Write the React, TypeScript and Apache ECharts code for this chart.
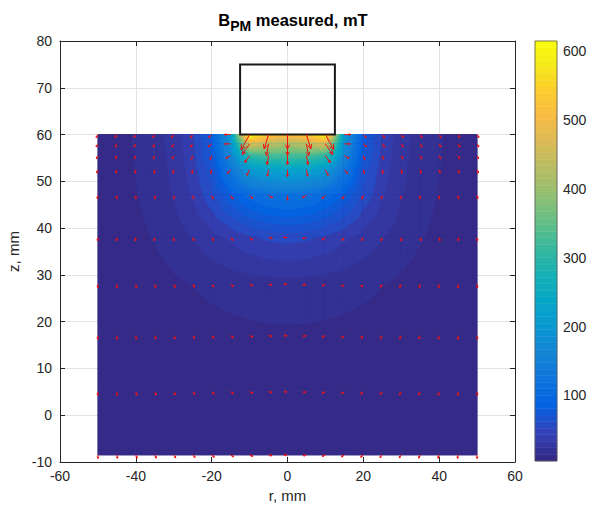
import React, { useEffect, useRef } from "react";
import * as echarts from "echarts";

// ---------- data ----------
const rValues = [-50, -45, -40, -35, -30, -25, -20, -15, -10, -5, 0, 5, 10, 15, 20, 25, 30, 35, 40, 45, 50];
const zValues = [60, 58, 55.5, 52.5, 47, 38, 28, 17, 5, -8.5];

// |B| in mT at each measurement point, one array per z row (r = -50 ... 50)
const bZ60 = [11, 14, 18, 25, 34, 52, 85, 210, 614, 540, 520, 540, 608, 210, 85, 52, 34, 25, 18, 14, 11];
const bZ58 = [10.5, 13.5, 18, 24, 33, 50, 82, 190, 470, 440, 420, 440, 470, 190, 82, 50, 33, 24, 18, 13.5, 10.5];
const bZ55_5 = [10, 13, 17.5, 24, 33, 49, 80, 165, 310, 330, 330, 330, 310, 165, 80, 49, 33, 24, 17.5, 13, 10];
const bZ52_5 = [10, 13, 17.5, 23, 32, 47, 72, 135, 210, 230, 235, 230, 210, 135, 72, 47, 32, 23, 17.5, 13, 10];
const bZ47 = [9.5, 12.5, 16.5, 22, 30, 43, 62, 88, 108, 120, 125, 120, 108, 88, 62, 43, 30, 22, 16.5, 12.5, 9.5];
const bZ38 = [8.5, 11, 14, 18, 23.5, 30, 37, 44, 51, 56, 58, 56, 51, 44, 37, 30, 23.5, 18, 14, 11, 8.5];
const bZ28 = [7, 8.5, 10.5, 12.5, 15, 17.5, 20, 22, 23.5, 24.5, 25, 24.5, 23.5, 22, 20, 17.5, 15, 12.5, 10.5, 8.5, 7];
const bZ17 = [6.2, 7, 8, 9, 10, 11.3, 12.5, 13.5, 14.3, 14.8, 15, 14.8, 14.3, 13.5, 12.5, 11.3, 10, 9, 8, 7, 6.2];
const bZ5 = [5.2, 5.5, 5.9, 6.3, 6.8, 7.3, 7.8, 8.2, 8.6, 8.9, 9, 8.9, 8.6, 8.2, 7.8, 7.3, 6.8, 6.3, 5.9, 5.5, 5.2];
const bZm8_5 = [5, 5, 5.1, 5.2, 5.3, 5.5, 5.6, 5.8, 5.9, 6, 6, 6, 5.9, 5.8, 5.6, 5.5, 5.3, 5.2, 5.1, 5, 5];

// field direction (degrees, 0 = +r, 90 = +z) at each point
const aZ60 = [-120, -120, -120, -120, -125, -125, -135, 180, -119, -107, -90, -73, -61, 0, -45, -55, -55, -60, -60, -60, -60];
const aZ58 = [-120, -120, -120, -120, -120, -125, -140, 180, -125, -100, -90, -80, -55, 0, -40, -55, -60, -60, -60, -60, -60];
const aZ55_5 = [-115, -115, -115, -115, -115, -110, -110, -150, -125, -100, -90, -80, -55, -30, -70, -70, -65, -65, -65, -65, -65];
const aZ52_5 = [-110, -105, -105, -100, -100, -100, -105, -130, -115, -100, -90, -80, -65, -50, -75, -80, -80, -80, -75, -75, -70];
const aZ47 = [-100, -95, -90, -85, -80, -75, -70, -60, -45, -30, -90, -150, -135, -120, -110, -105, -100, -95, -90, -85, -80];
const aZ38 = [-95, -95, -100, -100, -90, -70, -60, -50, -40, -15, 180, -165, -140, -130, -120, -110, -90, -80, -80, -85, -85];
const aZ28 = [-95, -90, -80, -75, -65, -60, -50, -40, -25, -10, 180, -170, -155, -140, -130, -120, -115, -105, -100, -90, -85];
const aZ17 = [-95, -90, -80, -70, -65, -55, -45, -35, -20, -10, 180, -170, -160, -145, -135, -125, -115, -110, -100, -90, -85];
const aZ5 = [-95, -85, -75, -65, -60, -50, -40, -30, -20, -10, 180, -170, -160, -150, -140, -130, -120, -115, -105, -95, -85];
const aZm8_5 = [-90, -80, -70, -65, -55, -45, -40, -30, -20, -10, 180, -170, -160, -150, -140, -135, -125, -115, -110, -100, -90];

const bRows = [bZ60, bZ58, bZ55_5, bZ52_5, bZ47, bZ38, bZ28, bZ17, bZ5, bZm8_5];
const aRows = [aZ60, aZ58, aZ55_5, aZ52_5, aZ47, aZ38, aZ28, aZ17, aZ5, aZm8_5];

// magnet outline [r0, z0, r1, z1]
const magnetBox = [-12.5, 60, 12.5, 75];

const xTickInterval = 20;
const yTickInterval = 10;
const colorbarTicks = [100, 200, 300, 400, 500, 600];

// ---------- styles ----------
const fontFamily = "'Liberation Sans', Arial, Helvetica, sans-serif";
const axisColor = "#262626";
const gridColor = "#e2e2e2";
const N_LEVELS = 50;

const PARULA: number[][] = [
  [0 / 63, 0.2081, 0.1663, 0.5292],
  [4 / 63, 0.1959, 0.2645, 0.7279],
  [8 / 63, 0.0117, 0.3875, 0.882],
  [12 / 63, 0.0498, 0.4586, 0.8641],
  [16 / 63, 0.0793, 0.52, 0.8312],
  [20 / 63, 0.0343, 0.5966, 0.8199],
  [24 / 63, 0.0228, 0.6535, 0.7768],
  [28 / 63, 0.0843, 0.6928, 0.7062],
  [32 / 63, 0.2178, 0.725, 0.6193],
  [36 / 63, 0.3953, 0.7459, 0.5244],
  [40 / 63, 0.5709, 0.7485, 0.4494],
  [44 / 63, 0.7184, 0.7411, 0.3905],
  [48 / 63, 0.8507, 0.7299, 0.336],
  [52 / 63, 0.9739, 0.7314, 0.2666],
  [56 / 63, 0.988, 0.8066, 0.1794],
  [60 / 63, 0.9598, 0.9218, 0.0948],
  [63 / 63, 0.9763, 0.9831, 0.0538],
];

function parula(t: number): string {
  const tt = Math.max(0, Math.min(1, t));
  let k = 0;
  while (k < PARULA.length - 2 && tt > PARULA[k + 1][0]) k++;
  const a = PARULA[k];
  const b = PARULA[k + 1];
  const u = (tt - a[0]) / (b[0] - a[0]);
  const c = [1, 2, 3].map((m) => Math.round((a[m] + u * (b[m] - a[m])) * 255));
  return `rgb(${c[0]},${c[1]},${c[2]})`;
}

// MATLAB-like 64-entry colormap lookup
function cmap(t: number): string {
  const idx = Math.min(63, Math.max(0, Math.floor(t * 64)));
  return parula(idx / 63);
}

type P = { x: number; y: number; v: number };

function clip(poly: P[], lvl: number, keepAbove: boolean): P[] {
  const out: P[] = [];
  for (let a = 0; a < poly.length; a++) {
    const p = poly[a];
    const q = poly[(a + 1) % poly.length];
    const pin = keepAbove ? p.v >= lvl : p.v <= lvl;
    const qin = keepAbove ? q.v >= lvl : q.v <= lvl;
    if (pin) out.push(p);
    if (pin !== qin) {
      const t = (lvl - p.v) / (q.v - p.v);
      out.push({ x: p.x + t * (q.x - p.x), y: p.y + t * (q.y - p.y), v: lvl });
    }
  }
  return out;
}

export default function App() {
  const ref = useRef<HTMLDivElement>(null);

  useEffect(() => {
    if (!ref.current) return;
    const chart = echarts.init(ref.current, null, { renderer: "svg" });

    const allB = bRows.flat();
    const cMin = Math.min(...allB);
    const cMax = Math.max(...allB);
    const step = (cMax - cMin) / N_LEVELS;
    const bandOf = (v: number) => Math.max(0, Math.min(N_LEVELS - 1, Math.floor((v - cMin) / step)));
    const bandColor = (k: number) => cmap(k / N_LEVELS);

    const cellData: number[][] = [];
    for (let j = 0; j < zValues.length - 1; j++) {
      for (let i = 0; i < rValues.length - 1; i++) {
        cellData.push([(rValues[i] + rValues[i + 1]) / 2, (zValues[j] + zValues[j + 1]) / 2, i, j]);
      }
    }
    const quiverData: number[][] = [];
    for (let j = 0; j < zValues.length; j++) {
      for (let i = 0; i < rValues.length; i++) {
        quiverData.push([rValues[i], zValues[j], bRows[j][i], aRows[j][i]]);
      }
    }

    const contourRender = (_params: any, api: any) => {
      const i = api.value(2) as number;
      const j = api.value(3) as number;
      const r0 = rValues[i], r1 = rValues[i + 1];
      const zA = zValues[j], zB = zValues[j + 1];
      const A: P = { x: r0, y: zA, v: bRows[j][i] };
      const B: P = { x: r1, y: zA, v: bRows[j][i + 1] };
      const C: P = { x: r1, y: zB, v: bRows[j + 1][i + 1] };
      const D: P = { x: r0, y: zB, v: bRows[j + 1][i] };
      const M: P = { x: (r0 + r1) / 2, y: (zA + zB) / 2, v: (A.v + B.v + C.v + D.v) / 4 };
      const tris = [[A, B, M], [B, C, M], [C, D, M], [D, A, M]];
      const children: any[] = [];
      // base fill of the whole cell in its lowest band colour (hides seams)
      const cellMin = Math.min(A.v, B.v, C.v, D.v);
      const kBase = bandOf(cellMin);
      const baseCol = bandColor(kBase);
      children.push({
        type: "polygon",
        shape: { points: [A, B, C, D].map((p) => api.coord([p.x, p.y])) },
        style: { fill: baseCol, stroke: baseCol, lineWidth: 1 },
      });
      for (const tri of tris) {
        const vs = tri.map((p) => p.v);
        const k0 = bandOf(Math.min(...vs));
        const k1 = bandOf(Math.max(...vs));
        for (let k = Math.max(k0, kBase + 1); k <= k1; k++) {
          let poly: P[] = tri;
          if (k > 0) poly = clip(poly, cMin + k * step, true);
          if (k < N_LEVELS - 1) poly = clip(poly, cMin + (k + 1) * step, false);
          if (poly.length < 3) continue;
          const pts = poly.map((p) => api.coord([p.x, p.y]));
          const col = bandColor(k);
          children.push({
            type: "polygon",
            shape: { points: pts },
            style: { fill: col, stroke: col, lineWidth: 1 },
          });
        }
      }
      return { type: "group", children };
    };

    const quiverRender = (_params: any, api: any) => {
      const p = api.coord([api.value(0), api.value(1)]);
      const b = api.value(2) as number;
      const a = ((api.value(3) as number) * Math.PI) / 180;
      const len = 3.5 + 14 * Math.pow(b / cMax, 1.5);
      const tip = [p[0] + len * Math.cos(a), p[1] - len * Math.sin(a)];
      const h = Math.max(2, len * 0.33);
      const w = 0.45;
      const l1 = [tip[0] - h * Math.cos(a - w), tip[1] + h * Math.sin(a - w)];
      const l2 = [tip[0] - h * Math.cos(a + w), tip[1] + h * Math.sin(a + w)];
      const style = { stroke: "#f21010", lineWidth: 1, fill: null };
      return {
        type: "group",
        children: [
          { type: "polyline", shape: { points: [p, tip] }, style },
          { type: "polyline", shape: { points: [l1, tip, l2] }, style },
        ],
      };
    };

    const magnetRender = (_params: any, api: any) => {
      const p0 = api.coord([api.value(0), api.value(1)]);
      const p1 = api.coord([api.value(2), api.value(3)]);
      return {
        type: "rect",
        shape: {
          x: Math.min(p0[0], p1[0]),
          y: Math.min(p0[1], p1[1]),
          width: Math.abs(p1[0] - p0[0]),
          height: Math.abs(p1[1] - p0[1]),
        },
        style: { fill: null, stroke: "#1a1a1a", lineWidth: 2 },
      };
    };

    const colorbarRender = (_params: any, api: any) => {
      const lo = api.value(1) as number;
      const hi = api.value(3) as number;
      const children: any[] = [];
      const n = 64;
      for (let s = 0; s < n; s++) {
        const v0 = lo + ((hi - lo) * s) / n;
        const v1 = lo + ((hi - lo) * (s + 1)) / n;
        const p0 = api.coord([api.value(0), v0]);
        const p1 = api.coord([api.value(2), v1]);
        const col = parula(s / 63);
        children.push({
          type: "rect",
          shape: { x: p0[0], y: p1[1], width: p1[0] - p0[0], height: p0[1] - p1[1] },
          style: { fill: col, stroke: col, lineWidth: 0.5 },
        });
      }
      const q0 = api.coord([api.value(0), lo]);
      const q1 = api.coord([api.value(2), hi]);
      children.push({
        type: "rect",
        shape: { x: q0[0], y: q1[1], width: q1[0] - q0[0], height: q0[1] - q1[1] },
        style: { fill: null, stroke: "#5a5a5a", lineWidth: 0.8 },
      });
      return { type: "group", children };
    };

    const tickLabel = { color: axisColor, fontSize: 14, fontFamily };

    const option: any = {
      animation: false,
      textStyle: { fontFamily },
      title: {
        text: "{b|B}{s|PM}{b| measured, mT}",
        left: 288,
        top: 1,
        textAlign: "center",
        textStyle: {
          rich: {
            b: { fontSize: 16.5, fontWeight: "bold", color: "#000", fontFamily },
            s: { fontSize: 14, fontWeight: "bold", color: "#000", fontFamily, padding: [13, 0, 0, 0] },
          },
        },
      },
      grid: [
        { left: 60, top: 41, width: 455, height: 421, outerBoundsMode: "none" },
        { left: 535, top: 41, width: 22, height: 420, outerBoundsMode: "none" },
      ],
      xAxis: [
        {
          gridIndex: 0,
          type: "value",
          min: -60,
          max: 60,
          interval: xTickInterval,
          position: "bottom",
          axisLine: { onZero: false, lineStyle: { color: axisColor, width: 1 } },
          axisTick: { inside: true, length: 5, lineStyle: { color: axisColor } },
          axisLabel: { ...tickLabel, margin: 7 },
          splitLine: { show: true, lineStyle: { color: gridColor, width: 1 } },
          name: "r, mm",
          nameLocation: "middle",
          nameGap: 25,
          nameTextStyle: { fontSize: 15, color: axisColor, fontFamily },
        },
        {
          gridIndex: 0,
          type: "value",
          min: -60,
          max: 60,
          interval: xTickInterval,
          position: "top",
          axisLine: { onZero: false, lineStyle: { color: axisColor, width: 1 } },
          axisTick: { inside: true, length: 5, lineStyle: { color: axisColor } },
          axisLabel: { show: false },
          splitLine: { show: false },
        },
        { gridIndex: 1, type: "value", min: 0, max: 1, show: false },
      ],
      yAxis: [
        {
          gridIndex: 0,
          type: "value",
          min: -10,
          max: 80,
          interval: yTickInterval,
          position: "left",
          axisLine: { show: true, onZero: false, lineStyle: { color: axisColor, width: 1 } },
          axisTick: { show: true, inside: true, length: 5, lineStyle: { color: axisColor } },
          axisLabel: { ...tickLabel, margin: 8 },
          splitLine: { show: true, lineStyle: { color: gridColor, width: 1 } },
          name: "z, mm",
          nameLocation: "middle",
          nameRotate: 90,
          nameGap: 25,
          nameTextStyle: { fontSize: 15, color: axisColor, fontFamily },
        },
        {
          gridIndex: 0,
          type: "value",
          min: -10,
          max: 80,
          interval: yTickInterval,
          position: "right",
          axisLine: { show: true, onZero: false, lineStyle: { color: axisColor, width: 1 } },
          axisTick: { show: true, inside: true, length: 5, lineStyle: { color: axisColor } },
          axisLabel: { show: false },
          splitLine: { show: false },
        },
        {
          gridIndex: 1,
          type: "value",
          min: cMin,
          max: cMax,
          position: "right",
          axisLine: { show: false, onZero: false },
          axisTick: { show: true, inside: true, length: 3, customValues: colorbarTicks, lineStyle: { color: axisColor } },
          axisLabel: { ...tickLabel, margin: 6, customValues: colorbarTicks },
          splitLine: { show: false },
        },
      ],
      series: [
        {
          type: "custom",
          xAxisIndex: 0,
          yAxisIndex: 0,
          data: cellData,
          encode: { x: 0, y: 1 },
          renderItem: contourRender,
          silent: true,
          z: 2,
        },
        {
          type: "custom",
          xAxisIndex: 0,
          yAxisIndex: 0,
          data: [magnetBox],
          encode: { x: [0, 2], y: [1, 3] },
          renderItem: magnetRender,
          silent: true,
          z: 3,
        },
        {
          type: "custom",
          xAxisIndex: 0,
          yAxisIndex: 0,
          data: quiverData,
          encode: { x: 0, y: 1 },
          renderItem: quiverRender,
          silent: true,
          z: 4,
        },
        {
          type: "custom",
          xAxisIndex: 2,
          yAxisIndex: 2,
          data: [[0, cMin, 1, cMax]],
          encode: { x: [0, 2], y: [1, 3] },
          renderItem: colorbarRender,
          silent: true,
          z: 2,
        },
      ],
    };

    chart.setOption(option);
    return () => chart.dispose();
  }, []);

  return (
    <div
      ref={ref}
      style={{ position: "fixed", left: 0, top: 0, width: 593, height: 510, background: "#fff" }}
    />
  );
}
